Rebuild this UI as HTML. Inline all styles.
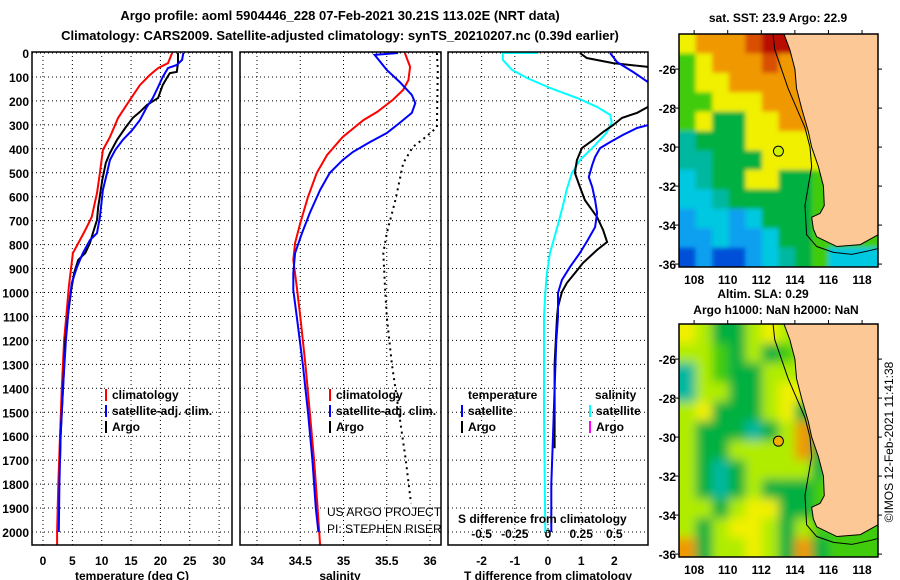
<!DOCTYPE html>
<html><head><meta charset="utf-8"><style>
html,body{margin:0;padding:0;background:#fff;width:900px;height:580px;overflow:hidden}
svg{display:block;font-family:"Liberation Sans",sans-serif}
.b{font-weight:bold;font-size:12px;fill:#000}
.t{font-weight:bold;font-size:13px;fill:#000}
.th{font-size:12px;fill:#000}
</style></head><body>
<svg id="s" width="900" height="580" viewBox="0 0 900 580">
<text class="t" x="340" y="20" text-anchor="middle">Argo profile: aoml 5904446_228 07-Feb-2021 30.21S 113.02E (NRT data)</text>
<text class="t" x="340" y="40" text-anchor="middle">Climatology: CARS2009. Satellite-adjusted climatology: synTS_20210207.nc (0.39d earlier)</text>
</svg>
<script>
// ---- data ----
const depthTick=[0,100,200,300,400,500,600,700,800,900,1000,1100,1200,1300,1400,1500,1600,1700,1800,1900,2000];
const tempTicks=[0,5,10,15,20,25,30];
const salTicks=[34,34.5,35,35.5,36];
const salTickLabels=["34","34.5","35","35.5","36"];
const tdTicks=[-2,-1,0,1,2];
const sdTicks=[-0.5,-0.25,0,0.25,0.5];
const sdTickLabels=["-0.5","-0.25","0","0.25","0.5"];

const depthClimT=[0,42,63,92,134,196,271,351,405,501,585,685,739,781,835,894,977,1060,1200,1400,1600,1800,2000,2055];
const tempClim=[22.0,21.3,19.6,18.2,16.5,14.8,12.8,11.4,10.2,9.7,9.2,8.3,7.2,6.3,5.1,4.8,4.4,4.1,3.6,3.2,2.9,2.6,2.4,2.4];
const depthSatT=[0,29,50,63,100,142,188,225,280,322,363,405,447,501,572,685,752,781,835,894,960,1060,1200,1400,1600,1800,2000];
const tempSat=[23.9,23.7,22.8,21.3,20.4,19.6,18.7,17.7,16.5,15.2,13.6,12.3,11.4,10.9,10.2,9.7,9.2,8.0,6.8,5.8,4.9,4.4,3.9,3.4,3.0,2.8,2.7];
const depthArgoT=[0,42,79,84,104,134,188,217,246,271,313,363,418,459,530,643,697,752,793,835,864,919,990,1086,1200,1400,1600,1700];
const tempArgo=[23.0,23.0,22.8,21.6,21.1,20.4,19.6,17.7,16.5,15.3,14.0,12.6,11.4,10.7,10.1,9.4,9.2,8.5,8.0,7.2,6.0,5.3,4.8,4.3,3.8,3.4,3.0,2.9];

const depthClimS=[0,58,113,154,196,246,280,351,426,501,601,710,793,864,977,1102,1300,1500,1700,1900,2055];
const salClim=[35.71,35.77,35.75,35.69,35.57,35.39,35.23,34.99,34.81,34.69,34.59,34.50,34.44,34.42,34.46,34.50,34.56,34.61,34.66,34.70,34.73];
const depthSatS=[0,8,21,71,121,175,209,250,292,334,371,413,447,501,572,668,752,835,919,990,1102,1300,1500,1700,1900,2000];
const salSat=[35.63,35.36,35.39,35.50,35.65,35.79,35.83,35.79,35.65,35.50,35.31,35.11,34.99,34.84,34.73,34.61,34.52,34.44,34.42,34.42,34.46,34.53,34.59,34.64,34.68,34.71];
const depthDotS=[0,71,310,351,393,460,530,614,752,835,977,1102,1300,1500,1700,1880];
const salDot=[36.08,36.09,36.08,35.95,35.80,35.69,35.65,35.60,35.50,35.46,35.48,35.50,35.56,35.64,35.72,35.78];

const depthTdSat=[0,38,79,121,160,280,313,342,372,397,434,468,518,559,614,668,727,781,835,894,948,1002,1102,1200,1400,1600,1800,2000];
const tdSat=[1.87,2.08,2.56,3.01,3.6,3.6,2.68,2.26,1.87,1.57,1.42,1.33,1.23,1.33,1.42,1.48,1.42,1.20,0.96,0.66,0.42,0.30,0.30,0.25,0.2,0.15,0.1,0.1];
const depthTdArgo=[0,21,42,58,75,190,225,250,271,301,330,363,397,447,501,559,614,685,739,789,822,877,919,960,998,1060,1102,1300,1500,1650];
const tdArgo=[0.96,1.17,1.96,3.01,4.0,4.0,3.01,2.68,2.23,1.96,1.66,1.36,1.02,0.87,0.81,0.96,1.11,1.48,1.66,1.78,1.48,1.05,0.81,0.57,0.42,0.30,0.27,0.2,0.2,0.2];
const depthSdSat=[0,0,29,71,104,146,188,225,259,292,334,393,447,501,572,643,727,835,919,1002,1102,1500,2000];
const sdSat=[-0.075,-0.34,-0.34,-0.27,-0.16,0.015,0.22,0.37,0.47,0.48,0.44,0.34,0.24,0.18,0.14,0.11,0.07,0.015,-0.008,-0.02,-0.03,-0.03,-0.02];

// map grids (rows from north to south, ~1 deg cells)
const sstGrid=["yooodrrooooo","gyooodoooooo","gyyooooooooo","ggyyyooooooo","gyGGyyooyyyy","tGGGyyyyyyyy","ttGGGyyyyggg","ctGGyyGGgggg","cctGGGGGgggg","bccbcGGGgggg","bbcbbcGGgggg","BbBBbctGgccc"];
const slaGrid=["ylGGlylglllll","llgGlGglllll","tlgGGlllglll","tllGGlyyglll","lyGGGlyGllll","lGGGtGloGlll","lGGlllloGlll","lGtGllllGlll","lGtGlGGGglll","llGlyyGGglll","lGlyylGlgggg","oGllylGoGggg"];
const coastLon=[113.35,113.7,114.0,114.1,114.4,114.8,115.0,115.4,115.7,115.75,115.5,115.0,115.1,115.3,116.5,117.9,118.95,118.95];
const coastLat=[-24.2,-25.0,-26.0,-27.0,-28.0,-29.2,-30.0,-31.0,-32.0,-33.0,-33.4,-33.6,-34.2,-34.6,-35.1,-35.0,-34.5,-24.2];
const isoLon=[112.7,112.8,113.2,113.6,114.1,114.6,114.9,115.0,114.8,114.6,114.7,115.3,116.3,117.4,118.5,118.95];
const isoLat=[-24.2,-25.0,-26.0,-27.0,-28.0,-29.0,-30.0,-31.0,-32.0,-33.0,-34.5,-35.1,-35.4,-35.5,-35.3,-35.2];
const floatLon=113.02, floatLat=-30.21;

// ---- drawing ----
const NS="http://www.w3.org/2000/svg";
const svg=document.getElementById('s');
function mk(tag,attrs,parent){const e=document.createElementNS(NS,tag);for(const k in attrs)e.setAttribute(k,attrs[k]);(parent||svg).appendChild(e);return e;}
function txt(x,y,s,cls,anchor,parent){const e=mk('text',{x:x,y:y,class:cls,'text-anchor':anchor||'start'},parent);e.textContent=s;return e;}
const yTop=53, yScale=0.2395, yBot=545;
const yD=d=>yTop+yScale*d;
const panels=[
 {name:'temperature',x0:32,x1:232,xf:v=>43+5.87*v},
 {name:'salinity',x0:240,x1:441,xf:v=>257+86.5*(v-34)},
 {name:'difference',x0:448,x1:648,xf:v=>548+33.2*v}
];
const defs=mk('defs',{});
panels.forEach((p,i)=>{const c=mk('clipPath',{id:'cp'+i},defs);mk('rect',{x:p.x0,y:52,width:p.x1-p.x0,height:yBot-52},c);});
const f0=mk('filter',{id:'bl0',x:'-10%',y:'-10%',width:'120%',height:'120%'},defs);mk('feGaussianBlur',{stdDeviation:2},f0);
const f1=mk('filter',{id:'bl1',x:'-10%',y:'-10%',width:'120%',height:'120%'},defs);mk('feGaussianBlur',{stdDeviation:5},f1);

function grid(p,ticks,g){
  ticks.forEach(t=>{const x=p.xf(t);const l=mk('line',{x1:x,x2:x,y1:52,y2:yBot,stroke:'#000','stroke-width':1,'stroke-dasharray':'1,3'},g);});
  depthTick.forEach(d=>{const y=yD(d);const l=mk('line',{x1:p.x0,x2:p.x1,y1:y,y2:y,stroke:'#000','stroke-width':1,'stroke-dasharray':'1,3'},g);});
}
function line(p,i,ds,vs,color,name,dash,w){
  const pts=ds.map((d,k)=>p.xf(vs[k]).toFixed(1)+','+yD(d).toFixed(1)).join(' ');
  const a={points:pts,fill:'none',stroke:color,'stroke-width':w||2,'clip-path':'url(#cp'+i+')'};
  if(dash)a['stroke-dasharray']=dash;
  const e=mk('polyline',a);
  
  
}
// panel 1
let g=mk('g',{});
grid(panels[0],tempTicks,g);
tempTicks.forEach(t=>txt(panels[0].xf(t),565,String(t),'b','middle'));
depthTick.forEach(d=>{const e=txt(29,yD(d)+5,String(d),'b','end');});
line(panels[0],0,depthClimT,tempClim,'#ff0000','temp-climatology-line');
line(panels[0],0,depthArgoT,tempArgo,'#000000','temp-argo-line');
line(panels[0],0,depthSatT,tempSat,'#0000ff','temp-satellite-line');
// panel 2
g=mk('g',{});
grid(panels[1],salTicks,g);
salTicks.forEach((t,k)=>txt(panels[1].xf(t),565,salTickLabels[k],'b','middle'));
line(panels[1],1,depthDotS,salDot,'#000','salinity-dotted-line','2,4',2);
line(panels[1],1,depthClimS,salClim,'#ff0000','sal-climatology-line');
line(panels[1],1,depthSatS,salSat,'#0000ff','sal-satellite-line');
// panel 3
g=mk('g',{});
grid(panels[2],tdTicks,g);
tdTicks.forEach(t=>txt(panels[2].xf(t),565,String(t),'b','middle'));
sdTicks.forEach((t,k)=>txt(panels[2].xf(t*4),538,sdTickLabels[k],'b','middle'));
line(panels[2],2,depthSdSat,sdSat.map(v=>v*4),'#00ffff','s-diff-satellite-line');
line(panels[2],2,depthTdArgo,tdArgo,'#000','t-diff-argo-line');
line(panels[2],2,depthTdSat,tdSat,'#0000ff','t-diff-satellite-line');
// frames
panels.forEach(p=>{const r=mk('rect',{x:p.x0,y:52,width:p.x1-p.x0,height:yBot-52,fill:'none',stroke:'#000','stroke-width':1.5});});
// axis titles
txt(132,580,'temperature (deg C)','b','middle');
txt(340,580,'salinity','b','middle');
txt(548,580,'T difference from climatology','b','middle');
txt(458,523,'S difference from climatology','b','start');
// legends
function leg(x,y,color,label){mk('rect',{x:x,y:y-10,width:2,height:12,fill:color});txt(x+7,y,label,'b');}
leg(105,399,'#ff0000','climatology');leg(105,415,'#0000ff','satellite-adj. clim.');leg(105,431,'#000','Argo');
leg(329,399,'#ff0000','climatology');leg(329,415,'#0000ff','satellite-adj. clim.');leg(329,431,'#000','Argo');
txt(468,399,'temperature','b');txt(595,399,'salinity','b');
leg(461,415,'#0000ff','satellite');leg(461,431,'#000','Argo');
leg(589,415,'#00ffff','satellite');leg(589,431,'#ff00ff','Argo');
txt(327,516,'US ARGO PROJECT','th').setAttribute('clip-path','url(#cp1)');
txt(327,533,'PI: STEPHEN RISER','th').setAttribute('clip-path','url(#cp1)');

// maps
const colors={r:'#b81000',d:'#d85000',o:'#f09800',y:'#f0f000',l:'#b0ec00',g:'#40cc10',G:'#00b040',t:'#00b8a0',c:'#00c8e0',b:'#10a0f0',B:'#0050d8'};
const mx0=679,mx1=878,lonL=107.1,lonR=118.95;
const mxf=lon=>mx0+(lon-lonL)*(mx1-mx0)/(lonR-lonL);
function drawMap(top,gridRows,name,idx){
  const bot=top+233;
  const latT=-24.2,latB=-36.15;
  const myf=lat=>top+(latT-lat)*(bot-top)/(latT-latB);
  const c=mk('clipPath',{id:'mc'+idx},defs);mk('rect',{x:mx0,y:top,width:mx1-mx0,height:bot-top},c);
  const gg=mk('g',{'clip-path':'url(#mc'+idx+')'});
  const cells=mk('g',{filter:'url(#bl'+idx+')'},gg);
  const nr=gridRows.length;
  gridRows.forEach((row,ri)=>{const nc=12;for(let ci=0;ci<nc;ci++){
    const ch=row[ci]||'l';
    let x=mx0+ci*(mx1-mx0)/nc, y=top+ri*(bot-top)/nr;
    let w=(mx1-mx0)/nc+0.5, h=(bot-top)/nr+0.5;
    if(ci===0){x-=10;w+=10;} if(ci===nc-1){w+=10;}
    if(ri===0){y-=10;h+=10;} if(ri===nr-1){h+=10;}
    mk('rect',{x:x,y:y,width:w,height:h,fill:colors[ch]},cells);}});
  const land=mk('polygon',{points:coastLon.map((l,k)=>mxf(l)+','+myf(coastLat[k])).join(' '),fill:'#fcc896',stroke:'#000','stroke-width':1},gg);
  
  mk('polyline',{points:isoLon.map((l,k)=>mxf(l)+','+myf(isoLat[k])).join(' '),fill:'none',stroke:'#000','stroke-width':1},gg);
  const fl=mk('circle',{cx:mxf(floatLon),cy:myf(floatLat),r:5,fill:idx?'#f0b000':'#d0f000',stroke:'#000','stroke-width':1});
  
  const fr=mk('rect',{x:mx0,y:top,width:mx1-mx0,height:bot-top,fill:'none',stroke:'#000','stroke-width':1.5});
  
  [-26,-28,-30,-32,-34,-36].forEach(l=>{const y=myf(l);mk('line',{x1:mx0-4,x2:mx0,y1:y,y2:y,stroke:'#000'});mk('line',{x1:mx1,x2:mx1+4,y1:y,y2:y,stroke:'#000'});txt(mx0-3,y+5,String(l),'b','end');});
  [108,110,112,114,116,118].forEach(l=>{const x=mxf(l);mk('line',{x1:x,x2:x,y1:top-4,y2:top,stroke:'#000'});txt(x,bot+17,String(l),'b','middle');});
}
drawMap(34,sstGrid,'sst-map',0);
drawMap(324,slaGrid,'sla-map',1);
txt(778,22,'sat. SST: 23.9 Argo: 22.9','b','middle');
txt(763,298,'Altim. SLA: 0.29','b','middle');
txt(776,314,'Argo h1000: NaN h2000: NaN','b','middle');
const cr=txt(0,0,'©IMOS 12-Feb-2021 11:41:38','th','middle');
cr.setAttribute('transform','translate(893,442) rotate(-90)');


</script>
</body></html>
